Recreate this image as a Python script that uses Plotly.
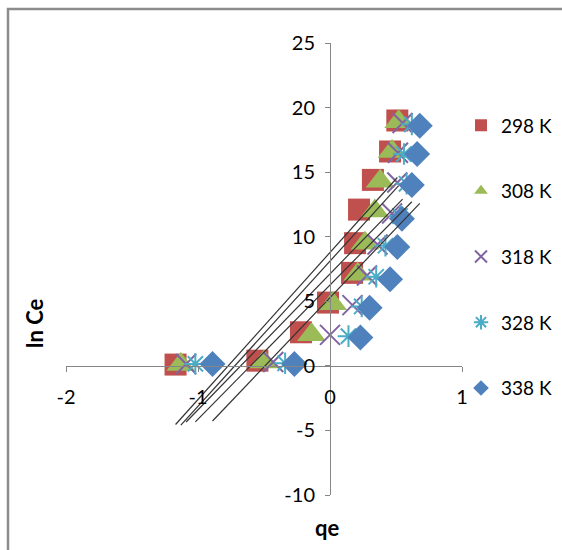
import numpy as np
import plotly.graph_objects as go

series_names = ["298 K", "308 K", "318 K", "328 K", "338 K"]

x_298 = [-1.17, -0.55, -0.22, -0.015, 0.167, 0.19, 0.22, 0.325, 0.455, 0.51]
y_298 = [0.1, 0.4, 2.6, 4.9, 7.2, 9.5, 12.1, 14.4, 16.6, 19.0]

x_308 = [-1.13, -0.50, -0.14, 0.02, 0.21, 0.265, 0.34, 0.38, 0.47, 0.52]
y_308 = [0.1, 0.3, 2.4, 4.8, 7.1, 9.5, 12.0, 14.3, 16.6, 18.9]

x_318 = [-1.09, -0.43, 0.0, 0.17, 0.28, 0.36, 0.47, 0.51, 0.515, 0.55]
y_318 = [0.15, 0.3, 2.4, 4.7, 7.0, 9.4, 11.8, 14.2, 16.5, 18.8]

x_328 = [-1.02, -0.34, 0.14, 0.24, 0.35, 0.42, 0.53, 0.58, 0.56, 0.62]
y_328 = [0.15, 0.2, 2.3, 4.6, 6.9, 9.3, 11.6, 14.1, 16.4, 18.7]

x_338 = [-0.89, -0.27, 0.23, 0.30, 0.455, 0.51, 0.545, 0.62, 0.66, 0.68]
y_338 = [0.15, 0.15, 2.2, 4.5, 6.7, 9.2, 11.4, 14.0, 16.4, 18.6]

x_ticks = [-2, -1, 0, 1]
x_tick_labels = ["-2", "-1", "0", "1"]
y_ticks = [-10, -5, 0, 5, 10, 15, 20, 25]
y_tick_labels = ["-10", "-5", "0", "5", "10", "15", "20", "25"]

xs = [x_298, x_308, x_318, x_328, x_338]
ys = [y_298, y_308, y_318, y_328, y_338]

colors = ["#C0504D", "#9BBB59", "#8064A2", "#4BACC6", "#4F81BD"]
symbols = ["square", "triangle-up", "x-thin-open", "asterisk-open", "diamond"]
sizes = [22, 25, 20, 18, 20]

FONT = "Lato"
fig = go.Figure()

for i, name in enumerate(series_names):
    fig.add_trace(go.Scatter(
        x=xs[i], y=ys[i], mode="markers", name=name,
        legendgroup=name,
        marker=dict(symbol=symbols[i], size=sizes[i], color=colors[i],
                    line=dict(color=colors[i], width=2 if i in (2, 3) else 0)),
    ))

for i, name in enumerate(series_names):
    xa = np.array(xs[i]); ya = np.array(ys[i])
    m, b = np.polyfit(xa, ya, 1)
    lx = np.array([xa.min(), xa.max()])
    fig.add_trace(go.Scatter(
        x=lx, y=m * lx + b, mode="lines", showlegend=False,
        line=dict(color="#333333", width=1.2), hoverinfo="skip",
    ))

axis_common = dict(showgrid=False, zeroline=False, showline=True,
                   linecolor="#868686", linewidth=1, ticks="outside",
                   ticklen=5, tickcolor="#868686",
                   tickfont=dict(family=FONT, size=20, color="#000000"))

fig.update_layout(
    width=562, height=550,
    margin=dict(l=66, r=100, t=43, b=55, autoexpand=False),
    paper_bgcolor="white", plot_bgcolor="white",
    font=dict(family=FONT, size=20, color="#000000"),
    xaxis=dict(range=[-2, 1], tickvals=x_ticks, ticktext=x_tick_labels,
               anchor="free", position=10 / 35, ticklabelstandoff=8,
               **axis_common),
    yaxis=dict(range=[-10, 25], tickvals=y_ticks, ticktext=y_tick_labels,
               anchor="free", position=2 / 3, ticklabelstandoff=6,
               **axis_common),
    legend=dict(x=(461 - 66) / 396, y=0.86, xanchor="left", yanchor="top",
                font=dict(family=FONT, size=19), tracegroupgap=38,
                itemsizing="constant", bgcolor="rgba(0,0,0,0)"),
    annotations=[
        dict(text="<b>qe</b>", xref="paper", yref="paper", x=(327 - 66) / 396,
             y=-(527 - 495) / 452, showarrow=False,
             font=dict(family=FONT, size=22), xanchor="center", yanchor="middle"),
        dict(text="<b>ln Ce</b>", xref="paper", yref="paper", x=(34 - 66) / 396,
             y=1 - (323 - 43) / 452, showarrow=False, textangle=-90,
             font=dict(family=FONT, size=22), xanchor="center", yanchor="middle"),
    ],
    shapes=[dict(type="rect", xref="paper", yref="paper",
                 x0=(8 - 66) / 396, x1=(600 - 66) / 396,
                 y0=-(600 - 495) / 452, y1=1 + (43 - 9) / 452,
                 line=dict(color="#8c8c8c", width=2.5))],
)

fig.write_html("out.html", config={"displayModeBar": False},
               post_script="document.body.style.margin='0';")
